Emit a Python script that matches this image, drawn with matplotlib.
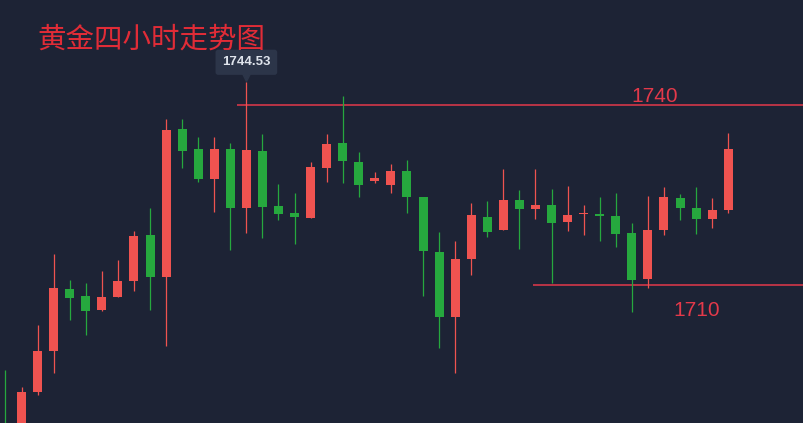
import matplotlib
matplotlib.use("Agg")
import matplotlib.pyplot as plt
import matplotlib.transforms as mtransforms
import numpy as np

# ---- data (4-hour gold candles) ----
opens  = [1686.0, 1685.0, 1692.17, 1699.05, 1709.33, 1708.17, 1705.83, 1708.0, 1710.62, 1718.38,
          1711.38, 1736.0, 1732.67, 1727.72, 1732.67, 1722.88, 1732.33, 1723.22, 1721.95, 1721.22,
          1729.55, 1733.7, 1730.55, 1727.38, 1726.72, 1729.0, 1724.72, 1715.5, 1704.72, 1714.33,
          1721.33, 1719.17, 1724.17, 1722.67, 1723.33, 1720.55, 1721.78, 1721.83, 1721.5, 1718.67,
          1711.0, 1719.22, 1724.5, 1722.83, 1721.0, 1722.5]
highs  = [1695.83, 1693.0, 1703.33, 1715.17, 1710.83, 1710.38, 1712.38, 1714.12, 1719.0, 1722.78,
          1737.67, 1737.67, 1734.72, 1734.72, 1733.62, 1743.88, 1735.12, 1726.83, 1725.38, 1730.5,
          1735.13, 1741.5, 1732.12, 1728.88, 1730.17, 1730.83, 1724.72, 1718.83, 1717.33, 1723.75,
          1723.95, 1729.33, 1725.83, 1729.33, 1726.0, 1726.55, 1723.33, 1724.72, 1725.38, 1720.38,
          1724.88, 1726.38, 1725.17, 1726.38, 1724.55, 1735.28]
lows   = [1680.0, 1683.0, 1691.67, 1695.38, 1704.22, 1701.62, 1705.72, 1708.0, 1709.0, 1705.83,
          1699.83, 1729.5, 1727.12, 1722.12, 1715.83, 1718.62, 1717.88, 1720.78, 1716.78, 1721.22,
          1727.22, 1726.95, 1724.72, 1726.95, 1725.38, 1722.05, 1708.22, 1699.5, 1695.38, 1711.67,
          1717.95, 1719.17, 1715.95, 1721.0, 1710.33, 1719.03, 1718.33, 1717.38, 1716.28, 1705.55,
          1709.55, 1718.33, 1720.83, 1718.5, 1719.45, 1722.05]
closes = [1683.0, 1692.17, 1699.05, 1709.55, 1707.88, 1705.72, 1708.0, 1710.67, 1718.22, 1711.38,
          1735.83, 1732.33, 1727.72, 1732.67, 1722.88, 1732.5, 1723.05, 1721.83, 1721.28, 1729.67,
          1733.5, 1730.72, 1726.72, 1727.88, 1729.05, 1724.72, 1715.7, 1704.72, 1714.33, 1721.67,
          1718.88, 1724.17, 1722.72, 1723.33, 1720.37, 1721.67, 1721.83, 1721.5, 1718.5, 1710.83,
          1719.22, 1724.67, 1722.83, 1721.0, 1722.5, 1732.67]

resistance = 1740
support = 1710
level_labels = ["1740", "1710"]
tooltip_value = "1744.53"
tooltip_index = 15
title = "黄金四小时走势图"

# ---- style ----
BG = "#1d2335"
UP = "#ef5350"
DOWN = "#26a83e"
LEVEL = "#e3394a"
TITLE_C = "#e12c37"

fig = plt.figure(figsize=(8.04, 4.23), dpi=100)
fig.patch.set_facecolor(BG)
ax = fig.add_axes([0, 0, 1, 1])
ax.set_facecolor(BG)
ax.axis("off")

n = len(opens)
idx = np.arange(n)
o = np.array(opens); c = np.array(closes); h = np.array(highs); l = np.array(lows)
up = c >= o
colors = np.where(up, UP, DOWN)

ax.vlines(idx, l, h, colors=colors, linewidth=0.9, zorder=2)
bottoms = np.minimum(o, c)
heights = np.maximum(np.abs(c - o), 0.2)
ax.bar(idx, heights, bottom=bottoms, width=0.56, color=colors, linewidth=0, zorder=3)

ax.set_xlim(-0.34, 49.72)
ax.set_ylim(1687.0, 1757.5)

# support / resistance lines
ax.hlines(resistance, 14.42, 49.72, colors=LEVEL, linewidth=1.1, zorder=1)
ax.hlines(support, 32.85, 49.72, colors=LEVEL, linewidth=1.1, zorder=1)
lab_font = ["Liberation Sans", "DejaVu Sans"]
ax.text(40.45, resistance + 0.55, level_labels[0], color=LEVEL, fontsize=15,
        family=lab_font, ha="center", va="baseline")
ax.text(43.05, support - 5.12, level_labels[1], color=LEVEL, fontsize=15,
        family=lab_font, ha="center", va="baseline")

# tooltip above the highest wick
ax.annotate(tooltip_value, xy=(tooltip_index, highs[tooltip_index]), xytext=(0, 14),
            textcoords="offset points", ha="center", va="center",
            fontsize=9.5, fontweight="bold", color="#dfe4ec",
            family=["Liberation Sans", "DejaVu Sans"],
            bbox=dict(boxstyle="round,pad=0.5,rounding_size=0.2", fc="#2c3549", ec="none"),
            zorder=5)
tri = mtransforms.offset_copy(ax.transData, fig=fig, x=0, y=3.5, units="points")
ax.plot([tooltip_index], [highs[tooltip_index]], marker="v", markersize=6,
        color="#2c3549", transform=tri, zorder=5, linestyle="none")

fig.text(37 / 804, 1 - 40 / 423, title, color=TITLE_C, fontsize=20.5,
         family=["Noto Sans CJK SC", "DejaVu Sans"], ha="left", va="center")

fig.savefig("out.png", dpi=100, facecolor=BG)
